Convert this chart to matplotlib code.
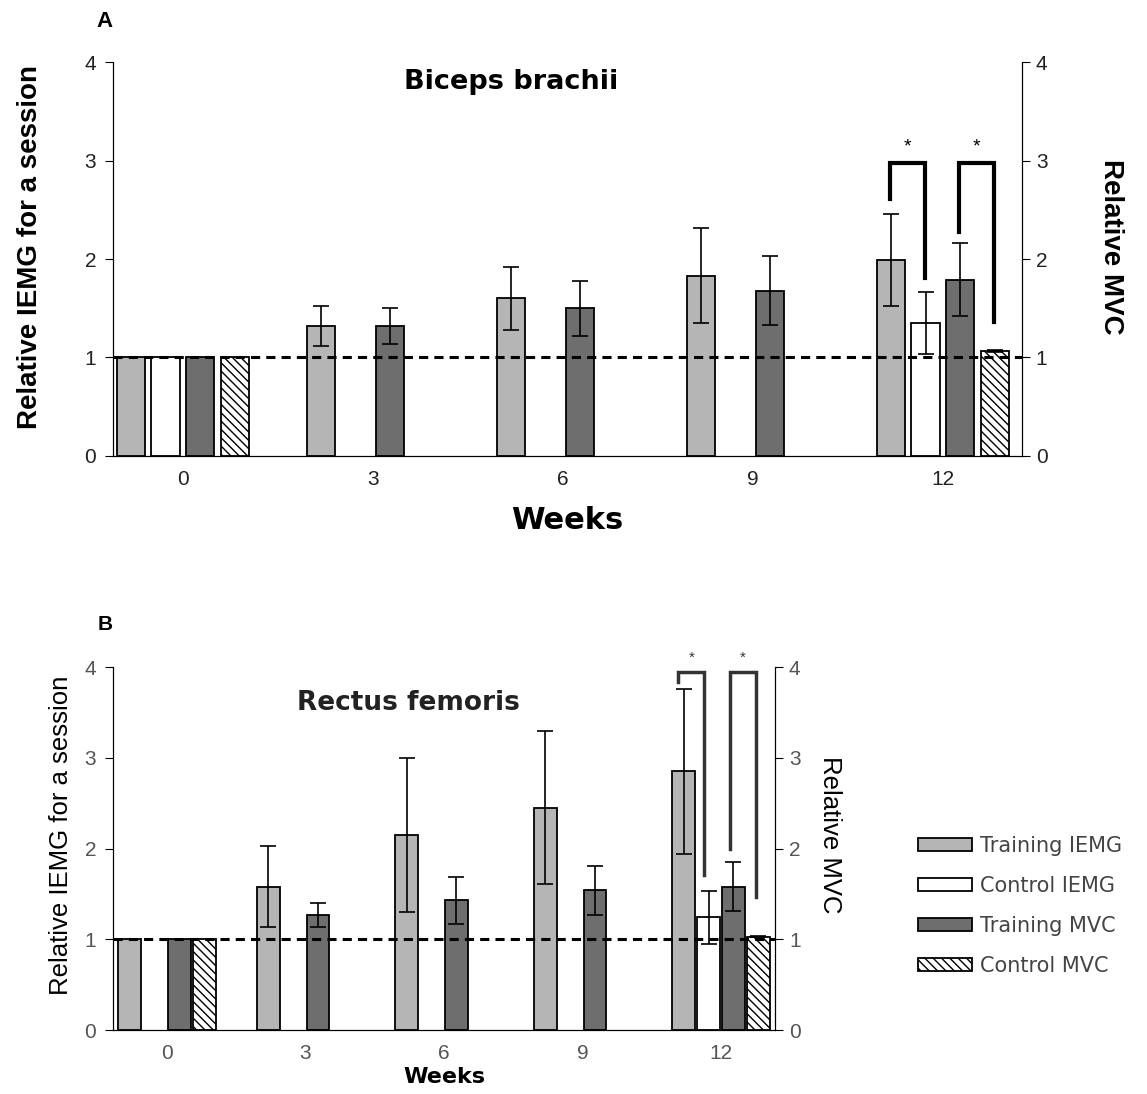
import numpy as np
import matplotlib
matplotlib.use("Agg")
import matplotlib.pyplot as plt

plt.rcParams['font.family'] = ['Liberation Sans', 'DejaVu Sans']
plt.rcParams['hatch.linewidth'] = 1.0

# Datos
semanas = ['0', '3', '6', '9', '12']
series = ['Training IEMG', 'Control IEMG', 'Training MVC', 'Control MVC']

# Panel A - Biceps brachii
a_train_iemg = [1.0, 1.32, 1.60, 1.83, 1.99]
a_train_iemg_err = [0, 0.20, 0.32, 0.48, 0.47]
a_ctrl_iemg = [1.0, np.nan, np.nan, np.nan, 1.35]
a_ctrl_iemg_err = [0, 0, 0, 0, 0.31]
a_train_mvc = [1.0, 1.32, 1.50, 1.68, 1.79]
a_train_mvc_err = [0, 0.18, 0.28, 0.35, 0.37]
a_ctrl_mvc = [1.0, np.nan, np.nan, np.nan, 1.07]
a_ctrl_mvc_err = [0, 0, 0, 0, 0.01]

# Panel B - Rectus femoris
b_train_iemg = [1.0, 1.58, 2.15, 2.45, 2.85]
b_train_iemg_err = [0, 0.45, 0.85, 0.84, 0.91]
b_ctrl_iemg = [np.nan, np.nan, np.nan, np.nan, 1.24]
b_ctrl_iemg_err = [0, 0, 0, 0, 0.29]
b_train_mvc = [1.0, 1.27, 1.43, 1.54, 1.58]
b_train_mvc_err = [0, 0.13, 0.26, 0.27, 0.27]
b_ctrl_mvc = [1.0, np.nan, np.nan, np.nan, 1.03]
b_ctrl_mvc_err = [0, 0, 0, 0, 0.01]

# Corchetes de significancia (x izq, x der, y izq, y tope, y der)
a_brackets = [(3.72, 3.905, 2.61, 2.97, 1.81), (4.084, 4.268, 2.27, 2.97, 1.36)]
b_brackets = [(3.69, 3.88, 3.83, 3.94, 1.71), (4.065, 4.25, 2.00, 3.94, 1.47)]

colores = ['#b5b5b5', 'white', '#6e6e6e', 'white']
hatches = [None, None, None, '\\\\\\\\']
ancha = ['DejaVu Sans']


def panel(ax, datos, errores, slot, ancho, brackets, txtcolor, lw_br, starsize, bracket_color):
    x = np.arange(len(semanas))
    barras = []
    for i, (vals, errs) in enumerate(zip(datos, errores)):
        pos = x + (i - 1.5) * slot
        b = ax.bar(pos, vals, ancho, color=colores[i], edgecolor='black',
                   linewidth=1.3, hatch=hatches[i], label=series[i], zorder=2)
        barras.append(b)
        vals = np.array(vals)
        errs = np.array(errs)
        m = (~np.isnan(vals)) & (errs > 0)
        ax.errorbar(pos[m], vals[m], yerr=errs[m], fmt='none', ecolor='black',
                    elinewidth=1.2, capsize=6, capthick=1.2, zorder=3)
    ax.axhline(1, color='black', ls='--', lw=2.2, dashes=(3, 2), zorder=4)
    for (x1, x2, y1, ytop, y2) in brackets:
        ax.plot([x1, x1, x2, x2], [y1, ytop, ytop, y2], color=bracket_color,
                lw=lw_br, solid_joinstyle='miter', zorder=5, clip_on=False)
        ax.text((x1 + x2) / 2, ytop + 0.08, '*', ha='center', va='bottom',
                fontsize=starsize, color=bracket_color, clip_on=False)
    ax.set_ylim(0, 4)
    ax.set_yticks(range(5))
    ax.set_xticks(x)
    ax.set_xticklabels(semanas)
    ax.tick_params(axis='x', length=0, pad=10, labelsize=15, labelcolor=txtcolor)
    ax.tick_params(axis='y', direction='out', length=6, labelsize=15,
                   labelcolor=txtcolor, pad=6)
    ax.spines['top'].set_visible(False)
    ax2 = ax.twinx()
    ax2.set_ylim(0, 4)
    ax2.set_yticks(range(5))
    ax2.tick_params(axis='y', direction='out', length=6, labelsize=15,
                    labelcolor=txtcolor, pad=4)
    ax2.spines['top'].set_visible(False)
    return barras, ax2


fig = plt.figure(figsize=(11.47, 10.94), dpi=100)

# Panel A
axA = fig.add_axes([0.0985, 0.5832, 0.7925, 0.3601])
datosA = [a_train_iemg, a_ctrl_iemg, a_train_mvc, a_ctrl_mvc]
errA = [a_train_iemg_err, a_ctrl_iemg_err, a_train_mvc_err, a_ctrl_mvc_err]
_, axA2 = panel(axA, datosA, errA, 0.182, 0.15, a_brackets, '#222222', 3.0, 14, 'black')
axA.set_xlim(-0.368, 4.416)
axA.set_xlabel('Weeks', fontsize=22, fontweight='bold', family=ancha, labelpad=12)
axA.set_ylabel('Relative IEMG for a session', fontsize=20, fontweight='bold')
axA.yaxis.set_label_coords(-0.077, 0.53)
axA2.set_ylabel('Relative MVC', fontsize=20, fontweight='bold', rotation=-90,
                va='center')
axA2.yaxis.set_label_coords(1.098, 0.53)
axA.text(0.438, 0.95, 'Biceps brachii', transform=axA.transAxes, ha='center',
         va='center', fontsize=19.5, fontweight='bold', family=ancha)
fig.text(0.091, 0.980, 'A', fontsize=16, fontweight='bold', ha='center', va='center')

# Panel B
axB = fig.add_axes([0.0985, 0.0585, 0.5772, 0.3318])
datosB = [b_train_iemg, b_ctrl_iemg, b_train_mvc, b_ctrl_mvc]
errB = [b_train_iemg_err, b_ctrl_iemg_err, b_train_mvc_err, b_ctrl_mvc_err]
barrasB, axB2 = panel(axB, datosB, errB, 0.18, 0.165, b_brackets, '#555555', 2.5, 11, '#333333')
axB.set_xlim(-0.39, 4.39)
axB.set_xlabel('Weeks', fontsize=16, fontweight='bold', family=ancha, labelpad=3)
axB.set_ylabel('Relative IEMG for a session', fontsize=18.5)
axB.yaxis.set_label_coords(-0.06, 0.535)
axB2.set_ylabel('Relative MVC', fontsize=18.5, rotation=-90, va='center')
axB2.yaxis.set_label_coords(1.083, 0.537)
axB.text(0.447, 0.90, 'Rectus femoris', transform=axB.transAxes, ha='center',
         va='center', fontsize=19, fontweight='bold', color='#222222', family=ancha)
fig.text(0.092, 0.429, 'B', fontsize=15, fontweight='bold', ha='center', va='center')

fig.legend(handles=barrasB, labels=series, loc='center left',
           bbox_to_anchor=(0.784, 0.172), frameon=False,
           prop={'family': ancha, 'size': 15},
           handlelength=2.6, handleheight=0.6, labelspacing=0.95,
           handletextpad=0.4, labelcolor='#444444')

plt.savefig('out.png', dpi=100)
